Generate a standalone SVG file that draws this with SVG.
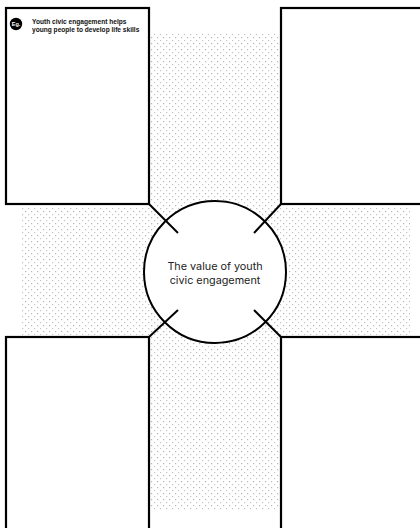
<svg xmlns="http://www.w3.org/2000/svg" width="420" height="528" viewBox="0 0 420 528">
<style>
.box{fill:#fff;stroke:#000;stroke-width:2.2}
.ln{stroke:#000;stroke-width:2;fill:none;stroke-linecap:butt}
.lbl{font-family:"Liberation Sans",Arial,sans-serif;font-weight:bold;font-size:6.6px;fill:#111}
.ctr{font-family:Inter,"Liberation Sans",sans-serif;font-size:10.8px;fill:#222;text-anchor:middle}
</style>
<defs>
<pattern id="dots" width="6" height="6" patternUnits="userSpaceOnUse">
<rect x="1" y="1" width="1.2" height="1.2" fill="#b5b5b5"/>
<rect x="4" y="4" width="1.2" height="1.2" fill="#c4c4c4"/>
</pattern>
</defs>
<rect width="420" height="528" fill="#fff"/>
<g id="background">
<rect x="149" y="33" width="132" height="478" fill="url(#dots)"/>
<rect x="22" y="207" width="388" height="128" fill="url(#dots)"/>
</g>
<g id="box-top-left">
<rect class="box" x="6" y="8" width="143" height="196"/>
<circle cx="16" cy="24" r="6.2" fill="#000"/>
<text x="16" y="26" font-family="Liberation Sans,Arial,sans-serif" font-size="5.5" font-weight="bold" fill="#fff" text-anchor="middle">Eg.</text>
<text class="lbl" x="32" y="23.5">Youth civic engagement helps</text>
<text class="lbl" x="32" y="31.5">young people to develop life skills</text>
</g>
<g id="box-top-right"><rect class="box" x="281" y="8" width="150" height="196"/></g>
<g id="box-bottom-left"><rect class="box" x="6" y="337" width="143" height="200"/></g>
<g id="box-bottom-right"><rect class="box" x="281" y="337" width="150" height="200"/></g>
<g id="center">
<circle cx="215" cy="272" r="71" fill="#fff" stroke="#000" stroke-width="2"/>
<text class="ctr" x="215" y="270">The value of youth</text>
<text class="ctr" x="215" y="283.5">civic engagement</text>
</g>
<g id="connectors">
<line class="ln" x1="149" y1="204" x2="178" y2="233"/>
<line class="ln" x1="281" y1="204" x2="254" y2="233"/>
<line class="ln" x1="149" y1="337" x2="178" y2="310"/>
<line class="ln" x1="281" y1="337" x2="254" y2="310"/>
</g>
</svg>
